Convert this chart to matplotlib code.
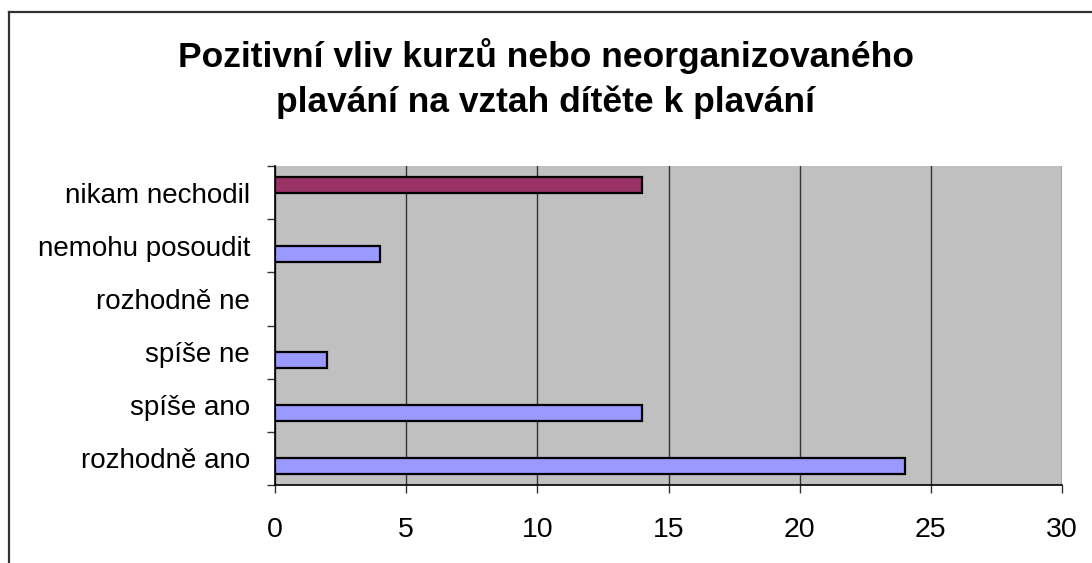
import numpy as np
import matplotlib
matplotlib.use("Agg")
import matplotlib.pyplot as plt
from matplotlib.lines import Line2D

plt.rcParams['font.family'] = ['Liberation Sans', 'DejaVu Sans']

# data (bottom to top, as drawn)
categories = ['rozhodně ano', 'spíše ano', 'spíše ne', 'rozhodně ne',
              'nemohu posoudit', 'nikam nechodil']
series_blue = [24, 14, 2, 0, 4, 0]
series_red = [0, 0, 0, 0, 0, 14]
x_ticks = [0, 5, 10, 15, 20, 25, 30]
title_lines = ['Pozitivní vliv kurzů nebo neorganizovaného',
               'plavání na vztah dítěte k plavání']

W, H = 1092, 563
fig = plt.figure(figsize=(W / 100, H / 100), dpi=100)
fig.patch.set_facecolor('white')

# chart area frame (cropped at right/bottom)
fig.add_artist(Line2D([9 / W, 1], [1 - 12 / H, 1 - 12 / H], color='#333333', lw=1.6,
                      transform=fig.transFigure))
fig.add_artist(Line2D([9 / W, 9 / W], [0, 1 - 12 / H], color='#333333', lw=1.6,
                      transform=fig.transFigure))

# title
fig.text(546 / W, 1 - 67 / H, title_lines[0], ha='center', va='baseline',
         fontsize=25.5, fontweight='bold')
fig.text(546 / W, 1 - 112 / H, title_lines[1], ha='center', va='baseline',
         fontsize=25.5, fontweight='bold')

left, right, top, bottom = 275, 1062, 166, 485
ax = fig.add_axes([left / W, 1 - bottom / H, (right - left) / W, (bottom - top) / H])
ax.set_facecolor('#c0c0c0')

y = np.arange(len(categories))
h = 0.3
off = 0.15
for yi, v in zip(y, series_blue):
    if v > 0:
        ax.barh(yi - off, v, height=h, color='#9999ff', edgecolor='black', linewidth=1.6,
                zorder=3)
for yi, v in zip(y, series_red):
    if v > 0:
        ax.barh(yi + off, v, height=h, color='#993366', edgecolor='black', linewidth=1.6,
                zorder=3)

ax.set_xlim(0, 30)
ax.set_ylim(-0.5, len(categories) - 0.5)
ax.set_xticks(x_ticks)
ax.set_xticklabels([str(t) for t in x_ticks], fontsize=20.5)
ax.set_yticks(y)
ax.set_yticklabels(categories, fontsize=20)
ax.set_yticks(np.arange(-0.5, len(categories)), minor=True)
ax.tick_params(axis='y', which='major', length=0, pad=18)
ax.tick_params(axis='y', which='minor', length=6, width=1, color='#333333', direction='out')
ax.tick_params(axis='x', length=6, width=1, color='#333333', direction='out', pad=17)

ax.grid(axis='x', color='#333333', linewidth=1, zorder=1)
ax.set_axisbelow(True)

for s in ['top', 'right']:
    ax.spines[s].set_visible(False)
ax.spines['left'].set_color('black')
ax.spines['bottom'].set_color('black')
ax.spines['left'].set_linewidth(1.2)
ax.spines['bottom'].set_linewidth(1.2)

fig.savefig('out.png', dpi=100)
